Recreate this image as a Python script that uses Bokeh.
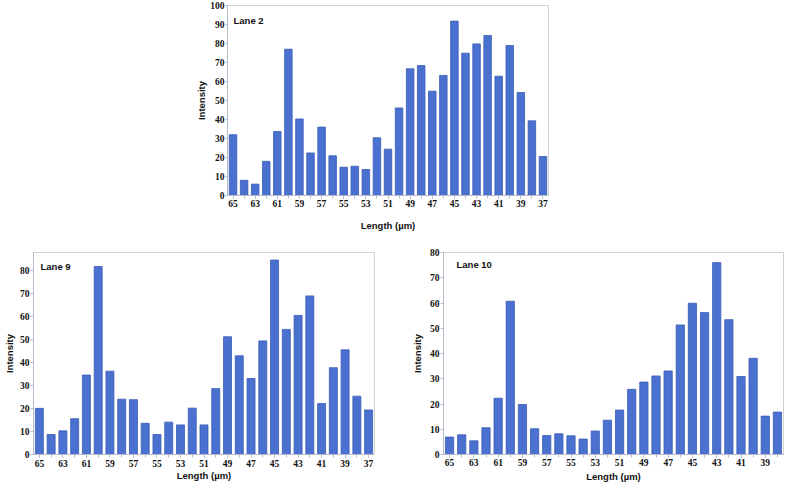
from bokeh.plotting import figure
from bokeh.models import Range1d, FixedTicker, Label, Spacer, ColumnDataSource
from bokeh.layouts import column, row
from bokeh.embed import file_html
from bokeh.resources import INLINE

# ---- data ----
lengths_29 = list(range(65, 36, -1))          # 65 .. 37
lengths_28 = list(range(65, 37, -1))          # 65 .. 38

lane2 = [32, 8, 6, 18, 33.7, 77, 40.3, 22.4, 36, 20.9, 14.9, 15.4, 13.7, 30.4,
         24.4, 46.1, 66.7, 68.4, 54.9, 63.2, 91.8, 74.9, 79.8, 84.2, 62.8, 78.9,
         54.2, 39.3, 20.5]
lane9 = [20.1, 8.7, 10.3, 15.6, 34.6, 81.9, 36.3, 24.1, 23.9, 13.6, 8.7, 14.1,
         12.9, 20.2, 12.9, 28.7, 51.3, 43, 33.1, 49.5, 84.7, 54.5, 60.6, 69.1,
         22.2, 37.8, 45.6, 25.4, 19.4]
lane10 = [6.9, 7.8, 5.4, 10.6, 22.3, 60.7, 19.8, 10.2, 7.5, 8.2, 7.4, 6.1, 9.3,
          13.6, 17.6, 25.8, 28.7, 31.1, 33.1, 51.3, 59.9, 56.2, 76.0, 53.4, 30.9,
          38.1, 15.2, 16.8]

x_tick_labels_29 = list(range(65, 36, -2))    # 65, 63, ... 37
x_tick_labels_28 = list(range(65, 38, -2))    # 65, 63, ... 39

BAR = "#4a70d0"
EDGE = "#3a5cb5"
AXIS = "#b4bccb"
FS = "9.5px"


def make(title, xs, ys, xticks, ymax, yticks, width, height, mb,
         xstand, xtitle_stand, ytick_out, ystand, ytitle_stand, title_off):
    left, right, top, bottom = mb
    p = figure(width=width, height=height, output_backend="svg",
               toolbar_location=None,
               x_range=Range1d(xs[0] + 0.5, xs[-1] - 0.5),
               y_range=Range1d(0, ymax),
               min_border_left=left, min_border_right=right,
               min_border_top=top, min_border_bottom=bottom)
    src = ColumnDataSource(dict(x=xs, top=ys))
    p.vbar(x="x", top="top", width=0.68, source=src,
           fill_color=BAR, line_color=EDGE, line_width=0.8)
    p.xgrid.visible = False
    p.ygrid.visible = False
    p.outline_line_color = "#d2d2d2"
    p.outline_line_width = 1

    p.xaxis.ticker = FixedTicker(ticks=xticks, minor_ticks=xs)
    p.yaxis.ticker = FixedTicker(ticks=yticks, minor_ticks=[])
    for ax in (p.xaxis[0], p.yaxis[0]):
        ax.axis_line_color = AXIS
        ax.major_tick_line_color = AXIS
        ax.minor_tick_line_color = AXIS
        ax.major_tick_out = 3
        ax.major_tick_in = 0
        ax.minor_tick_out = 3
        ax.minor_tick_in = 0
        ax.major_label_text_font = "Liberation Serif"
        ax.major_label_text_font_style = "bold"
        ax.major_label_text_font_size = FS
        ax.major_label_text_color = "#111111"
        ax.axis_label_text_font = "Liberation Sans"
        ax.axis_label_text_font_style = "bold"
        ax.axis_label_text_font_size = FS
        ax.axis_label_text_color = "#111111"
    p.yaxis.minor_tick_line_color = None
    p.xaxis.axis_label = "Length (µm)"
    p.yaxis.axis_label = "Intensity"
    p.xaxis.major_label_standoff = xstand
    p.xaxis.axis_label_standoff = xtitle_stand
    p.yaxis.major_tick_out = ytick_out
    p.yaxis.major_label_standoff = ystand
    p.yaxis.axis_label_standoff = ytitle_stand

    p.add_layout(Label(x=xs[0] + 0.5, y=ymax, x_offset=title_off[0],
                       y_offset=-title_off[1],
                       text=title, text_baseline="top", text_align="left",
                       text_font="Liberation Sans", text_font_style="bold",
                       text_font_size=FS, text_color="#111111"))
    return p


# top chart: frame x 227..548, y 5..195
p2 = make("Lane 2", lengths_29, lane2, x_tick_labels_29, 100,
          list(range(0, 101, 10)), 365, 233, (40, 4, 5, 38),
          1, 10, 2, 1, 0, (6, 9))
# lane 9: frame x 28..374, y 250..454
p9 = make("Lane 9", lengths_29, lane9, x_tick_labels_29, 88,
          list(range(0, 81, 10)), 408, 254, (28, 34, 17, 33),
          2, 0, 3, 1, 2, (7, 8))
# lane 10: frame x 439..783, y 252..455
p10 = make("Lane 10", lengths_28, lane10, x_tick_labels_28, 80,
           list(range(0, 81, 10)), 378, 254, (31, 3, 19, 32),
           1, 2, 3, 1, 4, (13, 6))

layout = column(row(Spacer(width=187, height=233), p2), row(p9, p10))

open("out.html", "w").write(file_html(layout, INLINE))
